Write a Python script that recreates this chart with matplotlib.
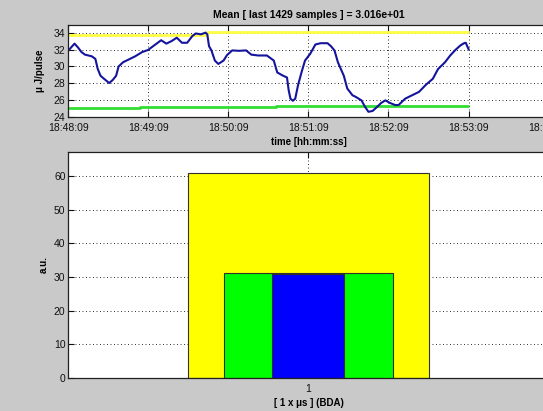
import matplotlib
matplotlib.use("Agg")
import matplotlib.pyplot as plt
import numpy as np

# ---------------- data ----------------
time_tick_labels = ["18:48:09", "18:49:09", "18:50:09", "18:51:09",
                    "18:52:09", "18:53:09", "18:54:09"]
time_tick_minutes = [0, 1, 2, 3, 4, 5, 6]

# pulse energy trace (minutes after 18:48:09, uJ/pulse)
trace_t = [0.000, 0.035, 0.078, 0.121, 0.165, 0.208, 0.294, 0.338, 0.368,
           0.403, 0.446, 0.511, 0.554, 0.597, 0.628, 0.684, 0.749, 0.835,
           0.922, 0.996, 1.074, 1.160, 1.225, 1.290, 1.355, 1.420, 1.485,
           1.550, 1.593, 1.658, 1.714, 1.736, 1.758, 1.788, 1.831, 1.874,
           1.939, 1.983, 2.048, 2.134, 2.221, 2.286, 2.372, 2.481, 2.567,
           2.610, 2.675, 2.732, 2.753, 2.775, 2.805, 2.835, 2.870, 2.913,
           2.957, 3.022, 3.087, 3.152, 3.238, 3.281, 3.325, 3.368, 3.442,
           3.485, 3.550, 3.593, 3.662, 3.706, 3.749, 3.801, 3.866, 3.909,
           3.961, 4.017, 4.082, 4.126, 4.208, 4.294, 4.381, 4.468, 4.554,
           4.619, 4.706, 4.771, 4.835, 4.900, 4.944, 4.965, 5.000]
trace_e = [31.86, 32.25, 32.70, 32.25, 31.70, 31.40, 31.20, 30.90, 29.70,
           28.90, 28.55, 28.05, 28.40, 28.90, 30.00, 30.50, 30.80, 31.20,
           31.70, 31.95, 32.50, 33.10, 32.70, 33.00, 33.40, 32.80, 32.80,
           33.60, 33.90, 33.80, 34.00, 33.80, 32.40, 31.90, 30.70, 30.30,
           30.70, 31.35, 31.90, 31.85, 31.90, 31.40, 31.30, 31.30, 30.70,
           29.30, 28.95, 28.70, 27.20, 26.20, 25.95, 26.20, 27.80, 29.30,
           30.70, 31.50, 32.60, 32.75, 32.75, 32.40, 31.90, 30.50, 28.90,
           27.40, 26.60, 26.40, 26.00, 25.25, 24.65, 24.75, 25.30, 25.70,
           26.00, 25.70, 25.45, 25.45, 26.20, 26.60, 27.00, 27.85, 28.55,
           29.70, 30.50, 31.30, 31.95, 32.50, 32.75, 32.80, 32.05]

# upper (yellow) and lower (green) limit lines, step shaped
upper_t = [0.0, 1.73, 1.73, 5.0]
upper_e = [33.7, 33.7, 34.05, 34.05]
lower_t = [0.0, 0.90, 0.90, 2.60, 2.60, 5.0]
lower_e = [25.12, 25.12, 25.22, 25.22, 25.32, 25.32]

title_text = "Mean [ last 1429 samples ] = 3.016e+01"

# bar chart (one category, nested bars)
bar_category = [1]
bar_outer = [61.1]     # yellow
bar_middle = [31.1]    # green
bar_inner = [30.9]     # blue

# ---------------- figure ----------------
W, H = 543, 411
fig = plt.figure(figsize=(W / 100, H / 100), dpi=100)
bg = "#c9c9c9"
fig.patch.set_facecolor(bg)
plt.rcParams['font.family'] = ['Liberation Sans', 'DejaVu Sans']

def frac(x0, y0, x1, y1):
    return [x0 / W, 1 - y1 / H, (x1 - x0) / W, (y1 - y0) / H]

grid_kw = dict(color="#303030", linestyle=(0, (1, 2.6)), linewidth=0.7)

def style(ax):
    ax.set_facecolor("white")
    for s in ax.spines.values():
        s.set_color("#202020")
        s.set_linewidth(0.9)
    ax.tick_params(direction="in", length=4, width=0.8, top=True,
                   right=False, labelsize=7.5, colors="#101010", pad=2)
    ax.tick_params(axis="x", pad=4)
    ax.grid(True, **grid_kw)
    ax.set_axisbelow(True)

# ---- top axes ----
ax1 = fig.add_axes(frac(68.3, 25.0, 548.6, 117.3))
style(ax1)
ax1.plot(upper_t, upper_e, color="#ffff44", lw=2.0, solid_capstyle="butt")
ax1.plot(lower_t, lower_e, color="#33dd33", lw=2.0, solid_capstyle="butt")
ax1.plot(trace_t, trace_e, color="#14149c", lw=1.5)
ax1.set_xlim(0, 6)
ax1.set_ylim(24, 34.9)
ax1.set_xticks(time_tick_minutes)
ax1.set_xticklabels(time_tick_labels)
ax1.set_yticks([24, 26, 28, 30, 32, 34])
ax1.set_title(title_text, fontsize=7.5, fontweight="bold", pad=5)
ax1.set_xlabel("time [hh:mm:ss]", fontsize=7, fontweight="bold", labelpad=3)
ax1.set_ylabel("μ J/pulse", fontsize=7, fontweight="bold", labelpad=6)

# ---- bottom axes ----
ax2 = fig.add_axes(frac(68.3, 151.7, 548.6, 378.0))
style(ax2)
edge = dict(edgecolor="#303030", linewidth=0.8)
ax2.bar(bar_category, bar_outer, width=1.0, color="#ffff00", **edge)
ax2.bar(bar_category, bar_middle, width=0.7, color="#00ff00", **edge)
ax2.bar(bar_category, bar_inner, width=0.3, color="#0000ff", **edge)
ax2.set_xlim(0, 2)
ax2.set_ylim(0, 67.3)
ax2.set_xticks(bar_category)
ax2.set_xticklabels([str(c) for c in bar_category])
ax2.set_yticks([0, 10, 20, 30, 40, 50, 60])
ax2.set_xlabel("[ 1 x μs ] (BDA)", fontsize=7, fontweight="bold", labelpad=3)
ax2.set_ylabel("a.u.", fontsize=7, fontweight="bold", labelpad=4)

fig.savefig("out.png", dpi=100, facecolor=bg)
